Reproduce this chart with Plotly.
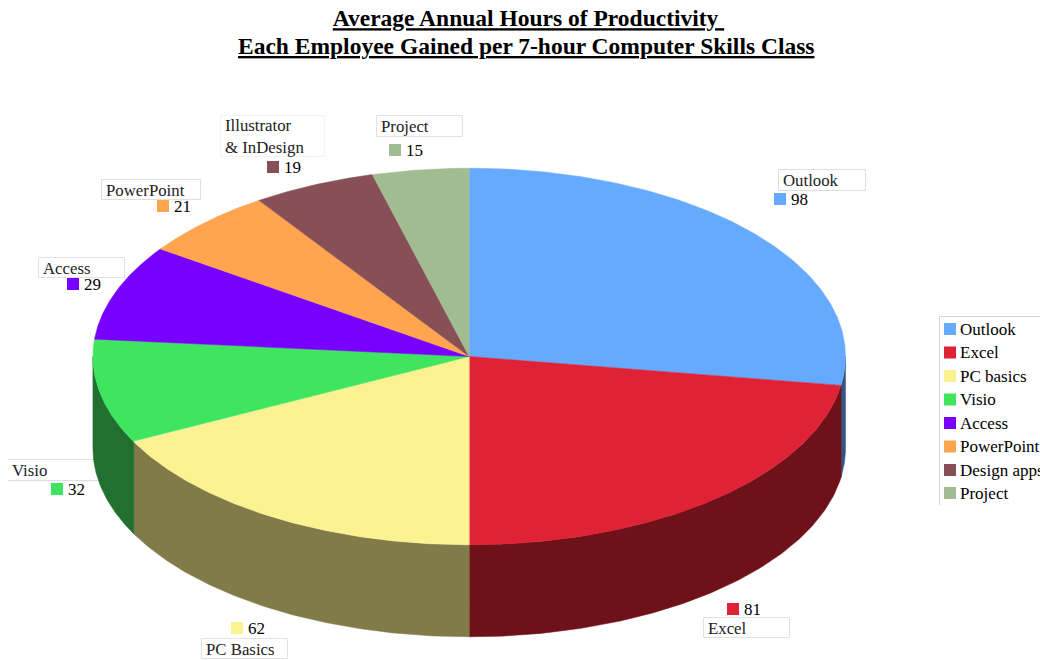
import numpy as np
import plotly.graph_objects as go

# ---- data ----
categories = ["Outlook", "Excel", "PC basics", "Visio", "Access", "PowerPoint", "Design apps", "Project"]
values = [98, 81, 62, 32, 29, 21, 19, 15]
# slice sizes as drawn in the picture (printed labels are rounded)
slice_sizes = [98, 80.5, 62.5, 32, 29.3, 21, 18.9, 14.8]
slice_labels = ["Outlook", "Excel", "PC Basics", "Visio", "Access", "PowerPoint", "Illustrator<br>& InDesign", "Project"]
title_line1 = "Average Annual Hours of Productivity&nbsp;"
title_line2 = "Each Employee Gained per 7-hour Computer Skills Class"

# ---- style ----
top_colors = ["#66AAFF", "#DF2235", "#FDF292", "#40E55F", "#7800FF", "#FFA550", "#875056", "#A2BC92"]
side_colors = ["#33557F", "#6E1119", "#807B48", "#217030", "#3C0080", "#805228", "#44282B", "#515E49"]
box_lines = ["#DEDEDE", "#E2E2E2", "#E2E2E2", "rgba(0,0,0,0)", "#E2E2E2", "#DEDEDE", "#F2F2F2", "#E2E2E2"]
FONT = "Liberation Serif"

# ---- pie geometry (pixel-like axis space) ----
CX, CY, RX, RY, DEPTH = 469.2, 356.5, 376.3, 188.3, 92

# ---- label layout: box (x0, y0, x1, y1), swatch left, swatch centre y, per slice ----
label_boxes = [(778.5, 169.5, 865.5, 190.5), (703.5, 617.5, 789.5, 637.5), (201.5, 638.5, 287.5, 658.5),
               (7.5, 459.5, 100.5, 480.5), (38.5, 257.5, 124.5, 277.5), (101.5, 179.5, 200.5, 199.5),
               (220.5, 115.5, 324.5, 156.5), (376.5, 115.5, 462.5, 136.5)]
label_swatch = [(774, 199), (727, 609), (231, 628), (51, 489), (67, 284), (157, 206), (267, 167), (389, 150)]
legend_rows = [329, 352.5, 376, 399.5, 423, 446.5, 470, 493]


def ell(theta, dy=0.0):
    return CX + RX * np.sin(theta), CY - RY * np.cos(theta) + dy


shapes, annotations = [], []
# label boxes, under the pie
for i, (x0, y0, x1, y1) in enumerate(label_boxes):
    shapes.append(dict(type="rect", layer="below", xref="x", yref="y", x0=x0, y0=y0, x1=x1, y1=y1,
                       fillcolor="white", line=dict(color=box_lines[i], width=1)))
# Visio box only shows its top and bottom rules
vx0, vy0, vx1, vy1 = label_boxes[3]
for vy in (vy0, vy1):
    shapes.append(dict(type="line", layer="below", xref="x", yref="y", x0=vx0, x1=vx1, y0=vy, y1=vy,
                       line=dict(color="#DEDEDE", width=1)))
# legend frame
shapes.append(dict(type="path", layer="below", xref="x", yref="y", path="M 939.5 505 L 939.5 316.5 L 1040 316.5",
                   line=dict(color="#D4D4D4", width=1)))

fig = go.Figure()
edges = np.cumsum([0] + slice_sizes) / sum(slice_sizes) * 2 * np.pi

# side walls first
for i, name in enumerate(categories):
    a, b = max(edges[i], np.pi / 2), min(edges[i + 1], 3 * np.pi / 2)
    if b <= a:
        continue
    t = np.linspace(a, b, 120)
    xt, yt = ell(t)
    xb, yb = ell(t[::-1], DEPTH)
    fig.add_trace(go.Scatter(x=np.r_[xt, xb, xt[0]], y=np.r_[yt, yb, yt[0]], mode="lines", fill="toself",
                             fillcolor=side_colors[i], line=dict(width=0.5, color=side_colors[i]),
                             hoverinfo="skip", showlegend=False))
# top faces
for i, name in enumerate(categories):
    t = np.linspace(edges[i], edges[i + 1], 160)
    xt, yt = ell(t)
    fig.add_trace(go.Scatter(x=np.r_[CX, xt, CX], y=np.r_[CY, yt, CY], mode="lines", fill="toself",
                             fillcolor=top_colors[i], line=dict(width=0.5, color=top_colors[i]),
                             name=name, text=f"{name}: {values[i]}", hoverinfo="text", showlegend=False))

# per-slice labels
for i, lab in enumerate(slice_labels):
    x0, y0, x1, y1 = label_boxes[i]
    annotations.append(dict(x=x0 + 3.5, y=(y0 + y1) / 2 + 0.8, text=lab, align="left", xanchor="left",
                            yanchor="middle", showarrow=False, font=dict(family=FONT, size=16.8, color="#222"),
                            xref="x", yref="y", borderpad=0))
    sx, sy = label_swatch[i]
    shapes.append(dict(type="rect", xref="x", yref="y", x0=sx, x1=sx + 12, y0=sy - 6, y1=sy + 6,
                       fillcolor=top_colors[i], line=dict(width=0)))
    annotations.append(dict(x=sx + 15.5, y=sy, text=str(values[i]), xanchor="left", yanchor="middle",
                            showarrow=False, font=dict(family=FONT, size=17, color="black"),
                            xref="x", yref="y", borderpad=0))
# legend
for i, name in enumerate(categories):
    ry = legend_rows[i]
    shapes.append(dict(type="rect", xref="x", yref="y", x0=944, x1=956, y0=ry - 6, y1=ry + 6,
                       fillcolor=top_colors[i], line=dict(width=0)))
    annotations.append(dict(x=959, y=ry, text=name, xanchor="left", yanchor="middle", showarrow=False,
                            font=dict(family=FONT, size=17, color="black"), xref="x", yref="y", borderpad=0))

# second title line (tighter leading than the title's own line breaks allow)
annotations.append(dict(x=526, y=46, text=f"<b><u>{title_line2}</u></b>", xanchor="center", yanchor="middle",
                        showarrow=False, font=dict(family=FONT, size=23.5, color="black"), xref="x", yref="y"))

fig.update_layout(
    width=1040, height=660, margin=dict(l=0, r=0, t=0, b=0),
    paper_bgcolor="white", plot_bgcolor="white", showlegend=False,
    title=dict(text=f"<b><u>{title_line1}</u></b>", x=528.5 / 1040, xanchor="center", y=1 - 18 / 660,
               yanchor="middle", font=dict(family=FONT, size=23.5, color="black")),
    xaxis=dict(range=[0, 1040], visible=False, fixedrange=True),
    yaxis=dict(range=[660, 0], visible=False, fixedrange=True),
    shapes=shapes, annotations=annotations,
)
fig.write_html("out.html", post_script="document.body.style.margin='0';", config=dict(displayModeBar=False))
